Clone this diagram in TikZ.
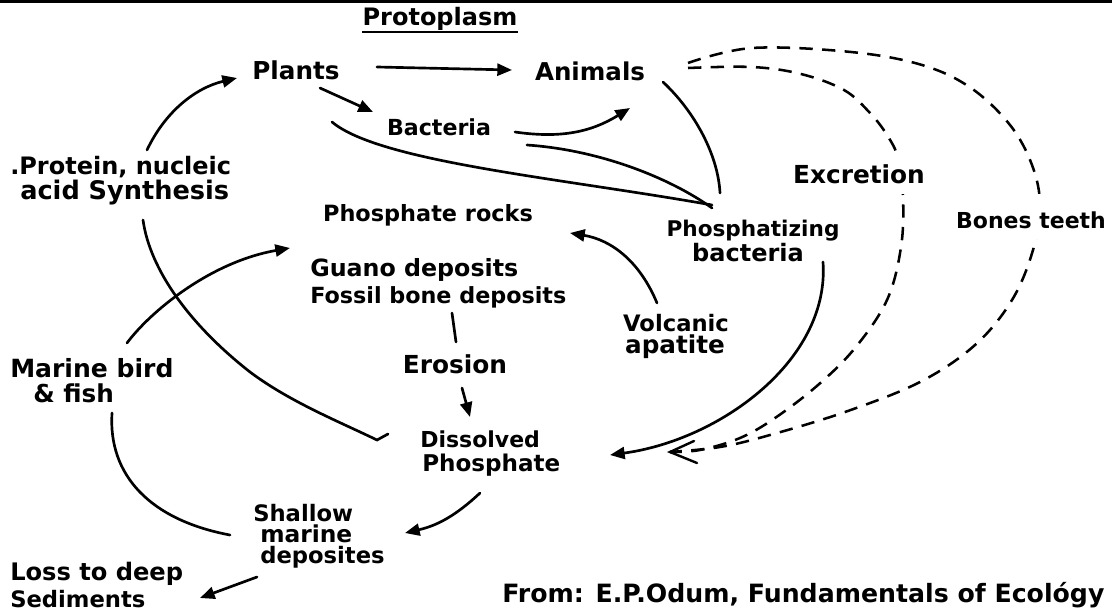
\documentclass[tikz,border=0pt]{standalone}
\usepackage{fontspec}
\setmainfont{DejaVu Sans}
\usetikzlibrary{arrows.meta}
\newcommand{\fsz}[1]{\fontsize{#1}{#1}\selectfont\bfseries}
\begin{document}
\begin{tikzpicture}[x=0.75pt,y=-0.75pt,
  lbl/.style={inner sep=0pt, anchor=base},
  lblw/.style={inner sep=0pt, anchor=base west},
  cut/.style={fill=white, inner xsep=3pt, inner ysep=8pt, anchor=base},
  link/.style={line width=2pt, line cap=round},
  arr/.style={link, -{Triangle[length=11pt,width=9pt]}},
  dsh/.style={line width=1.9pt, dash pattern=on 10pt off 7pt},
]
\useasboundingbox (0,0) rectangle (1112,613);
\fill (0,0) rectangle (1112,3.5);

% labels
\node[lbl, font=\fsz{18}] (proto) at (440,26) {Protoplasm};
\draw[line width=1.8pt] ([shift={(-78,6)}]proto.base) -- ([shift={(78,6)}]proto.base);
\node[lbl, font=\fsz{18.5}] (plants) at (296,80) {Plants};
\node[lbl, font=\fsz{18.4}] (animals) at (590,81) {Animals};
\node[lbl, font=\fsz{16.6}] (bacteria) at (439,136) {Bacteria};
\node[lblw, font=\fsz{18}] (protein) at (10,174) {.Protein, nucleic};
\node[lblw, font=\fsz{19.2}] (synth) at (20,199) {acid Synthesis};
\node[lbl, font=\fsz{16.8}] (rocks) at (428,221) {Phosphate rocks};
\node[lblw, font=\fsz{17.8}] (guano) at (310,276) {Guano deposits};
\node[lblw, font=\fsz{16.7}] (fossil) at (310,303) {Fossil bone deposits};
\node[lbl, font=\fsz{17}] (volc) at (676,331) {Volcanic};
\node[lbl, font=\fsz{18.5}] (apat) at (675,353) {apatite};
\node[lbl, font=\fsz{16.2}] (phz) at (753,236) {Phosphatizing};
\node[lbl, font=\fsz{18}] (pbac) at (748,261) {bacteria};
\node[lbl, font=\fsz{18.6}] (erosion) at (455,373) {Erosion};
\node[lblw, font=\fsz{18.8}] (marine) at (10,377) {Marine bird};
\node[lblw, font=\fsz{18.5}] (fish) at (33,402) {\& fish};
\node[lblw, font=\fsz{16.5}] (dissolved) at (420,447) {Dissolved};
\node[lblw, font=\fsz{17.3}] (phosphate) at (422,471) {Phosphate};
\node[lblw, font=\fsz{17}] (shallow) at (253,521) {Shallow};
\node[lblw, font=\fsz{17.5}] (smarine) at (260,542) {marine};
\node[lblw, font=\fsz{17}] (deposites) at (260,563) {deposites};
\node[lblw, font=\fsz{18.1}] (loss) at (10,580) {Loss to deep};
\node[lblw, font=\fsz{17}] (sediments) at (10,607) {Sediments};
\node[lblw, font=\fsz{18.9}] (source) at (502,602) {From: E.P.Odum, Fundamentals of Ecológy};

% connectors
\draw[arr] ([shift={(81,-13)}]plants.base) -- ([shift={(-78,-11)}]animals.base);
\draw[arr] ([shift={(24,8)}]plants.base) -- ([shift={(-66,-24)}]bacteria.base);
\draw[arr] ([shift={(76,-4)}]bacteria.base) to[bend right=20] ([shift={(40,27)}]animals.base);
\draw[link] ([shift={(36,42)}]plants.base) .. controls (380,162) and (560,178) .. ([shift={(-41,-31)}]phz.base);
\draw[link] ([shift={(88,9)}]bacteria.base) .. controls (600,150) and (670,178) .. ([shift={(-41,-28)}]phz.base);
\draw[link] ([shift={(73,1)}]animals.base) .. controls (695,112) and (718,155) .. ([shift={(-33,-43)}]phz.base);
\draw[arr] ([shift={(137,-24)}]protein.base west) .. controls (165,112) and (195,88) .. ([shift={(-59,-2)}]plants.base);
\draw[link] ([shift={(123,21)}]synth.base west) .. controls (150,270) and (190,325) .. (250,372)
   .. controls (290,402) and (340,422) .. ([shift={(-43,-7)}]dissolved.base west) -- ([shift={(-32,-13)}]dissolved.base west);
\draw[arr] ([shift={(117,-34)}]marine.base west) .. controls (150,312) and (210,262) .. ([shift={(-138,27)}]rocks.base);
\draw[link] ([shift={(79,11)}]fish.base west) .. controls (108,475) and (150,520) .. ([shift={(-23,14)}]shallow.base west);
\draw[arr] ([shift={(-3,14)}]deposites.base west) -- ([shift={(190,18)}]loss.base west);
\draw[arr] ([shift={(58,22)}]phosphate.base west) to[bend left=15] ([shift={(152,12)}]shallow.base west);
\draw[link] ([shift={(142,10)}]fossil.base west) -- ([shift={(1,-31)}]erosion.base);
\draw[arr] ([shift={(7,15)}]erosion.base) -- ([shift={(50,-30)}]dissolved.base west);
\draw[arr] ([shift={(-19,-28)}]volc.base) .. controls (640,262) and (612,240) .. ([shift={(142,12)}]rocks.base);
\draw[arr] ([shift={(75,1)}]pbac.base) .. controls (830,360) and (720,440) .. ([shift={(188,-16)}]phosphate.base west);

% dashed returns
\coordinate (tip) at ([shift={(248,-19)}]phosphate.base west);
\coordinate (ds1) at ([shift={(98,-18)}]animals.base);
\coordinate (ds2) at ([shift={(98,-13)}]animals.base);
\draw[dsh] plot[smooth, tension=0.6] coordinates {(ds1) (752,48) (851,52) (922,65) (971,88) (1010,125) (1032,165) (1040,205) (1033,250) (1012,300) (975,345) (920,382) (845,412) (770,435) (720,447) (tip)};
\draw[dsh] plot[smooth, tension=0.6] coordinates {(ds2) (752,67) (801,74) (844,90) (870,113) (887,135) (898,158) (903,197) (901,247) (887,300) (855,348) (818,385) (775,418) (740,438) (700,450) (tip)};
\draw[link, line width=1.8pt] ([shift={(24,-11)}]tip) -- (tip) -- ([shift={(27,11)}]tip);
\node[cut, font=\fsz{18.6}] (excretion) at (859,183) {Excretion};
\node[cut, font=\fsz{16.5}] (bones) at (1031,228) {Bones teeth};
\end{tikzpicture}
\end{document}
